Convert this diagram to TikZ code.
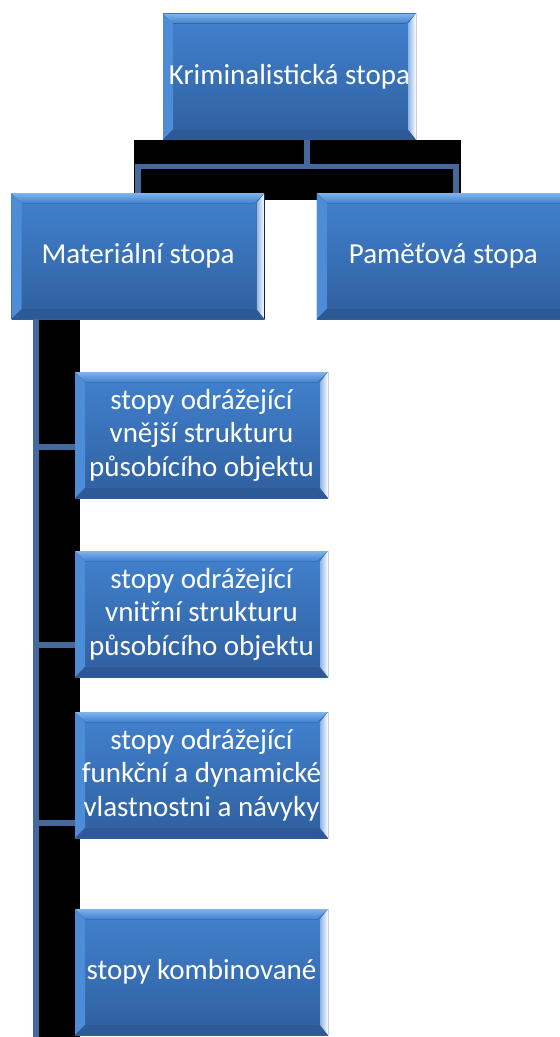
\documentclass[tikz,border=0pt]{standalone}
\usepackage{fontspec}
\setmainfont{Carlito}
\usetikzlibrary{positioning,calc}
\definecolor{boxtop}{HTML}{4282D0}
\definecolor{boxbot}{HTML}{2F5F9E}
\definecolor{bevtop}{HTML}{80B4EC}
\definecolor{bevleft}{HTML}{4D8CD6}
\definecolor{bevbot}{HTML}{2D5A96}
\definecolor{linkblue}{HTML}{44699A}

\begin{document}
\begin{tikzpicture}[
    x=1pt, y=-1pt,
    bevelbox/.style={rectangle, inner sep=0pt, minimum width=253pt, minimum height=126pt,
        text=white, align=center, font=\fontsize{29}{33.5}\selectfont,
        top color=boxtop, bottom color=boxbot,
        path picture={
            \coordinate (nw) at (path picture bounding box.north west);
            \coordinate (ne) at (path picture bounding box.north east);
            \coordinate (sw) at (path picture bounding box.south west);
            \coordinate (se) at (path picture bounding box.south east);
            \fill[top color=bevtop, bottom color=boxtop] (nw) -- (ne) -- ([shift={(-10,10)}]ne) -- ([shift={(10,10)}]nw) -- cycle;
            \fill[bevleft] (nw) -- ([shift={(10,10)}]nw) -- ([shift={(10,-10)}]sw) -- (sw) -- cycle;
            \fill[bevbot] (sw) -- ([shift={(10,-10)}]sw) -- ([shift={(-10,-10)}]se) -- (se) -- cycle;
            \fill[left color=boxtop!60!white, right color=white] (ne) -- ([shift={(-8,10)}]ne) -- ([shift={(-8,-10)}]se) -- (se) -- cycle;
        }},
    shade/.style={fill=black},
    link/.style={draw=linkblue, line width=5.5pt}
]
    \useasboundingbox (0,0) rectangle (560,1037);

    % black backing of the connectors
    \fill[shade] (134,140) rectangle (461,200);
    \fill[shade] (33,319) rectangle (80,1037);

    % top level
    \node[bevelbox] (krim) at (289.5,76.5) {Kriminalistická stopa};

    % second level
    \node[bevelbox] (mat) at (138,256) {Materiální stopa};
    \node[bevelbox, right=52pt of mat] (pam) {Paměťová stopa};

    % kinds of material traces
    \node[bevelbox] (vnej) at (201.5,435) {stopy odrážející\\vnější strukturu\\působícího objektu};
    \node[bevelbox] (vnit) at (201.5,614) {stopy odrážející\\vnitřní strukturu\\působícího objektu};
    \node[bevelbox] (funk) at (201.5,775) {stopy odrážející\\funkční a dynamické\\vlastnostni a návyky};
    \node[bevelbox] (komb) at (201.5,972) {stopy kombinované};

    % connectors
    \draw[link] ([xshift=17.5pt]krim.south) -- ++(0,27) coordinate (hub);
    \draw[link] (hub) -| (mat.north);
    \draw[link] (hub) -| ([xshift=12.5pt]pam.north);

    \coordinate (spine) at ([xshift=-102pt]mat.south);
    \coordinate (spineend) at (36,1037);
    \draw[link] (spine) -- (spineend);
    \draw[link] (spine) |- ([yshift=-12pt]vnej.west);
    \draw[link] (spine) |- ([yshift=-31pt]vnit.west);
    \draw[link] (spine) |- ([yshift=-48pt]funk.west);
\end{tikzpicture}
\end{document}
